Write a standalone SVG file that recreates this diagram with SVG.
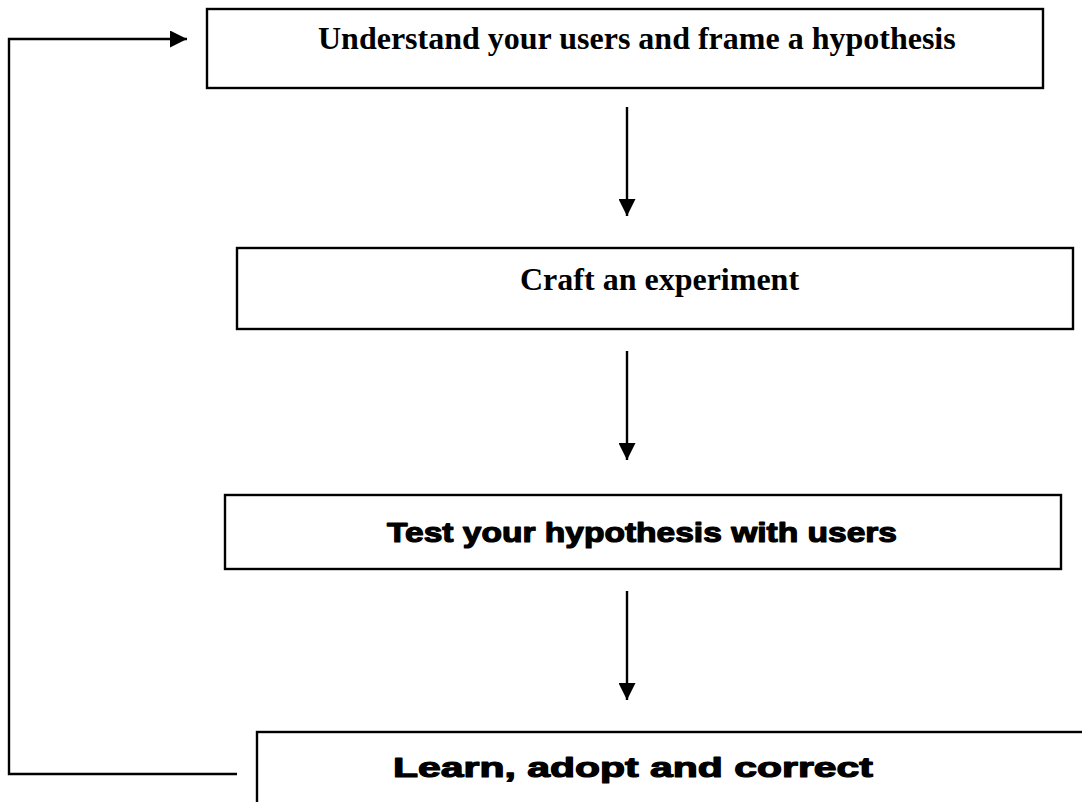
<svg xmlns="http://www.w3.org/2000/svg" width="1082" height="802" viewBox="0 0 1082 802">
  <style>
    .box { fill: #ffffff; stroke: #000000; stroke-width: 2.4; }
    .edge { fill: none; stroke: #000000; stroke-width: 2.4; }
    .serif { font-family: "Liberation Serif", "Times New Roman", serif; font-weight: bold; font-size: 32px; fill: #000000; }
    .heavy { font-family: "Liberation Sans", Arial, sans-serif; font-weight: bold; font-size: 28px; fill: #000000; stroke: #000000; stroke-width: 1.2; stroke-linejoin: round; }
  </style>
  <defs>
    <marker id="arrow" markerUnits="userSpaceOnUse" markerWidth="17" markerHeight="17" viewBox="0 0 17 17" refX="17" refY="8.5" orient="auto">
      <path d="M0,0 L17,8.5 L0,17 Z" fill="#000000"/>
    </marker>
  </defs>
  <rect width="1082" height="802" fill="#ffffff"/>

  <g id="node-understand">
    <rect class="box" x="207" y="9" width="836" height="79"/>
    <text class="serif" x="318" y="49">Understand your users and frame a hypothesis</text>
  </g>

  <g id="node-craft">
    <rect class="box" x="237" y="248" width="836" height="81"/>
    <text class="serif" x="520" y="290">Craft an experiment</text>
  </g>

  <g id="node-test">
    <rect class="box" x="225" y="495" width="836" height="74"/>
    <text class="heavy" x="387" y="542" textLength="510" lengthAdjust="spacingAndGlyphs">Test your hypothesis with users</text>
  </g>

  <g id="node-learn">
    <rect class="box" x="257" y="732" width="840" height="90"/>
    <text class="heavy" x="393" y="777" textLength="480" lengthAdjust="spacingAndGlyphs">Learn, adopt and correct</text>
  </g>

  <g id="connectors">
    <line class="edge" x1="627" y1="107" x2="627" y2="216" marker-end="url(#arrow)"/>
    <line class="edge" x1="627" y1="351" x2="627" y2="460" marker-end="url(#arrow)"/>
    <line class="edge" x1="627" y1="591" x2="627" y2="700" marker-end="url(#arrow)"/>
    <polyline class="edge" points="237,774 9,774 9,39 187,39" marker-end="url(#arrow)"/>
  </g>
</svg>
